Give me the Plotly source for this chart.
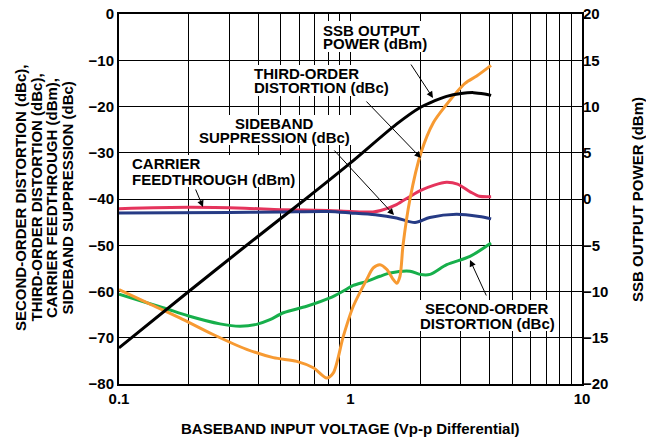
import plotly.graph_objects as go

# ---------------- data ----------------
ssb_v = [0.1, 0.2, 0.356, 0.64, 1.0, 1.58, 2.0, 2.3, 2.6, 3.0, 3.4, 3.8, 4.05]
ssb_power = [-16.1, -10.0, -5.0, 0.0, 3.9, 8.1, 9.9, 10.6, 11.1, 11.4, 11.5, 11.35, 11.2]

third_v = [0.1, 0.132, 0.183, 0.255, 0.356, 0.464, 0.586, 0.691, 0.789, 0.843, 0.931,
           1.028, 1.175, 1.254, 1.341, 1.433, 1.52, 1.584, 1.636, 1.686, 1.807, 2.016,
           2.279, 2.559, 3.123, 3.509, 4.046]
third_dbc = [-59.6, -62.4, -65.7, -69.3, -72.5, -74.3, -75.1, -76.5, -78.7, -77.6, -69.7,
             -63.2, -57.4, -54.9, -54.2, -55.2, -57.2, -58.2, -56.7, -50.0, -40.0, -30.0,
             -23.5, -20.0, -15.0, -13.4, -11.1]

second_v = [0.1, 0.155, 0.2, 0.273, 0.333, 0.393, 0.449, 0.513, 0.647, 0.815, 0.931,
            1.028, 1.175, 1.341, 1.481, 1.807, 1.996, 2.205, 2.604, 3.282, 4.046]
second_dbc = [-60.6, -63.5, -65.3, -67.0, -67.5, -67.1, -66.1, -64.6, -63.2, -61.4, -59.9,
              -58.7, -57.8, -56.7, -56.0, -55.6, -56.3, -56.3, -54.2, -52.4, -49.5]

carrier_v = [0.1, 0.2, 0.35, 0.5, 0.8, 1.0, 1.25, 1.35, 1.58, 1.8, 2.0, 2.3, 2.6, 2.9,
             3.3, 3.6, 4.05]
carrier_dbm = [-42.1, -41.8, -42.0, -42.3, -42.5, -42.7, -42.8, -42.5, -41.2, -39.5, -38.2,
               -37.0, -36.4, -36.8, -38.5, -39.4, -39.5]

sideband_v = [0.1, 0.3, 0.5, 0.8, 1.0, 1.28, 1.58, 1.9, 2.2, 2.87, 3.6, 4.05]
sideband_dbc = [-43.0, -42.9, -42.8, -42.7, -43.0, -43.4, -44.1, -45.1, -44.0, -43.3, -43.8, -44.3]

x_tickvals = [0.1, 1, 10]
x_ticktext = ["0.1", "1", "10"]
x_minor = [0.2, 0.3, 0.4, 0.5, 0.6, 0.7, 0.8, 0.9, 2, 3, 4, 5, 6, 7, 8, 9]

# ---------------- layout helpers ----------------
PAGE_W, PAGE_H = 654, 440
OFF = 8                      # default body margin of the html page
W, H = PAGE_W - OFF, PAGE_H - OFF
L, R, T, B = 119, 582, 14, 384   # plot area in page pixels
FONT = "Liberation Sans, Arial, Helvetica, sans-serif"
FS = 15


def px(x):
    return (x - L) / (R - L)


def py(y):
    return (B - y) / (B - T)


fig = go.Figure()

line_w = 3
fig.add_trace(go.Scatter(x=second_v, y=second_dbc, mode="lines",
                         line=dict(color="#17AF4B", width=line_w, shape="spline", smoothing=0.8)))
fig.add_trace(go.Scatter(x=carrier_v, y=carrier_dbm, mode="lines",
                         line=dict(color="#E5345C", width=line_w, shape="spline", smoothing=0.8)))
fig.add_trace(go.Scatter(x=sideband_v, y=sideband_dbc, mode="lines",
                         line=dict(color="#263B85", width=line_w, shape="spline", smoothing=0.8)))
fig.add_trace(go.Scatter(x=third_v, y=third_dbc, mode="lines",
                         line=dict(color="#F79A32", width=line_w, shape="spline", smoothing=0.8)))
fig.add_trace(go.Scatter(x=ssb_v, y=ssb_power, mode="lines", yaxis="y2",
                         line=dict(color="black", width=line_w, shape="spline", smoothing=0.8)))

tickfont = dict(family=FONT, size=FS, color="black", weight="bold")

fig.update_layout(
    width=W, height=H,
    margin=dict(l=L - OFF, r=W - (R - OFF), t=T - OFF, b=H - (B - OFF), autoexpand=False),
    paper_bgcolor="white", plot_bgcolor="white",
    showlegend=False,
    xaxis=dict(type="log", range=[-1, 1], tickmode="array", tickvals=x_tickvals,
               ticktext=x_ticktext, showgrid=True, gridcolor="black", gridwidth=1.2,
               minor=dict(tickmode="array", tickvals=x_minor, showgrid=True,
                          gridcolor="black", gridwidth=1.2, ticks=""),
               showline=True, linecolor="black", linewidth=2, mirror=True,
               ticks="", zeroline=False, tickfont=tickfont, automargin=False,
               ticklabeloverflow="allow"),
    yaxis=dict(range=[-80, 0], dtick=10, tick0=0, showgrid=True, gridcolor="black",
               gridwidth=1.2, showline=True, linecolor="black", linewidth=2, mirror=True,
               ticks="", zeroline=False, tickfont=tickfont, automargin=False,
               ticklabeloverflow="allow"),
    yaxis2=dict(range=[-20, 20], dtick=5, tick0=0, overlaying="y", side="right",
                showgrid=False, zeroline=False, ticks="", showline=False,
                tickfont=tickfont, automargin=False, ticklabeloverflow="allow"),
)

# white boxes behind the callout labels (they hide the grid like the original)
shapes = []


def box(x0, y0, x1, y1):
    shapes.append(dict(type="rect", xref="paper", yref="paper", layer="above",
                       x0=px(x0), x1=px(x1), y0=py(y1), y1=py(y0),
                       fillcolor="white", line=dict(width=0)))


box(318, 21, 433, 52)
box(249, 65, 391, 96)
box(197, 115, 352, 145)
box(128, 155, 295, 187)
box(418, 300, 557, 331)

annots = []


def text(s, x, y, anchor="left"):
    annots.append(dict(text=s, x=px(x), y=py(y), xref="paper", yref="paper",
                       xanchor=anchor, yanchor="middle", showarrow=False,
                       font=dict(family=FONT, size=FS, color="black", weight="bold")))


def arrow(tx, ty, hx, hy):
    annots.append(dict(text="", x=px(hx), y=py(hy), xref="paper", yref="paper",
                       ax=tx - hx, ay=ty - hy, showarrow=True, arrowhead=2,
                       arrowsize=1.3, arrowwidth=1, arrowcolor="black", standoff=0))


text("SSB OUTPUT", 321, 30)
text("POWER (dBm)", 321, 44)
text("THIRD-ORDER", 252, 73)
text("DISTORTION (dBc)", 252, 88)
text("SIDEBAND", 274, 123, "center")
text("SUPPRESSION (dBc)", 274, 137, "center")
text("CARRIER", 130, 163)
text("FEEDTHROUGH (dBm)", 130, 179)
text("SECOND-ORDER", 487, 308, "center")
text("DISTORTION (dBc)", 487, 323, "center")

arrow(410, 63, 433, 98)
arrow(365, 100, 421, 158)
arrow(333, 149, 394, 215)
arrow(195, 188, 203, 207)
arrow(487, 297, 470, 260)

# axis titles
title_font = dict(family=FONT, size=FS, color="black", weight="bold")
left_lines = ["SECOND-ORDER DISTORTION (dBc),", "THIRD-ORDER DISTORTION (dBc),",
              "CARRIER FEEDTHROUGH (dBm),", "SIDEBAND SUPPRESSION (dBc)"]
for i, s in enumerate(left_lines):
    annots.append(dict(text=s, x=px(20 + 15.5 * i), y=py(198), xref="paper", yref="paper",
                       xanchor="center", yanchor="middle", textangle=-90,
                       showarrow=False, font=title_font))
annots.append(dict(text="SSB OUTPUT POWER (dBm)", x=px(637), y=py(200), xref="paper",
                   yref="paper", xanchor="center", yanchor="middle", textangle=-90,
                   showarrow=False, font=title_font))
annots.append(dict(text="BASEBAND INPUT VOLTAGE (Vp-p Differential)", x=px(350), y=py(428),
                   xref="paper", yref="paper", xanchor="center", yanchor="middle",
                   showarrow=False, font=title_font))

fig.update_layout(annotations=annots, shapes=shapes)
fig.write_html("out.html")
